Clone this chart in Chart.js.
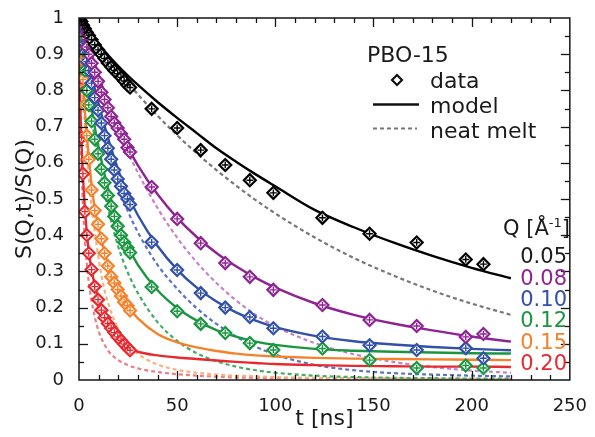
<!DOCTYPE html>
<html>
<head>
<meta charset="utf-8">
<script src="https://cdn.jsdelivr.net/npm/chart.js@4/dist/chart.umd.min.js"></script>
<style>
  html, body { margin: 0; padding: 0; background: #fff; }
  #c { display: block; }
</style>
</head>
<body>
<canvas id="c" width="595" height="437"></canvas>
<script>
// ---- time grids [ns] ----
const tShort = [0.5, 1.2, 2, 3, 4, 5, 6.4, 8, 9.7, 11.4, 13, 14.7, 16.4, 18, 19.7, 21.4, 23, 24.7, 26];
const tLong  = [37, 50, 62, 74.5, 87, 99, 124, 148, 172, 197, 206];
const tGrid  = [0, 0.5, 1, 1.5, 2, 3, 4, 5, 6, 8, 10, 12, 15, 20, 25, 30, 40, 50, 60, 70, 80, 90, 100, 120, 140, 160, 180, 200, 220];

// ---- Q labels ----
const qLabels = ['0.05', '0.08', '0.10', '0.12', '0.15', '0.20'];

// ---- measured S(Q,t)/S(Q) ----
const q005Short = [0.995, 0.99, 0.98, 0.97, 0.96, 0.952, 0.94, 0.926, 0.912, 0.9, 0.888, 0.876, 0.865, 0.855, 0.846, 0.836, 0.826, 0.815, 0.808];
const q005Long  = [0.749, 0.696, 0.635, 0.594, 0.552, 0.517, 0.448, 0.404, 0.38, 0.333, 0.32];
const q008Short = [0.99, 0.975, 0.96, 0.94, 0.92, 0.9, 0.875, 0.85, 0.825, 0.795, 0.775, 0.752, 0.728, 0.71, 0.696, 0.68, 0.665, 0.642, 0.63];
const q008Long  = [0.533, 0.445, 0.378, 0.323, 0.285, 0.249, 0.207, 0.166, 0.149, 0.119, 0.127];
const q010Short = [0.98, 0.96, 0.935, 0.905, 0.88, 0.855, 0.82, 0.78, 0.745, 0.71, 0.675, 0.64, 0.61, 0.58, 0.555, 0.535, 0.515, 0.5, 0.485];
const q010Long  = [0.381, 0.304, 0.24, 0.2, 0.174, 0.143, 0.12, 0.096, 0.083, 0.088, 0.06];
const q012Short = [0.97, 0.94, 0.9, 0.855, 0.8, 0.76, 0.715, 0.665, 0.625, 0.582, 0.545, 0.51, 0.48, 0.452, 0.425, 0.4, 0.38, 0.365, 0.352];
const q012Long  = [0.257, 0.19, 0.155, 0.13, 0.102, 0.083, 0.087, 0.055, 0.033, 0.04, 0.033];
const q015Short = [0.95, 0.89, 0.83, 0.76, 0.675, 0.61, 0.525, 0.468, 0.43, 0.39, 0.35, 0.315, 0.285, 0.268, 0.25, 0.232, 0.215, 0.205, 0.192];
const q020Short = [0.82, 0.67, 0.57, 0.465, 0.4, 0.35, 0.305, 0.258, 0.222, 0.193, 0.172, 0.156, 0.143, 0.131, 0.119, 0.109, 0.099, 0.089, 0.082];

// ---- model curves on tGrid ----
const q005Model = [1, 0.996, 0.992, 0.988, 0.984, 0.977, 0.969, 0.962, 0.955, 0.941, 0.928, 0.915, 0.896, 0.867, 0.84, 0.815, 0.768, 0.724, 0.682, 0.64, 0.603, 0.568, 0.535, 0.47, 0.422, 0.38, 0.343, 0.31, 0.281];
const q008Model = [1, 0.992, 0.984, 0.976, 0.968, 0.953, 0.938, 0.922, 0.906, 0.874, 0.842, 0.81, 0.765, 0.7, 0.642, 0.593, 0.513, 0.448, 0.395, 0.351, 0.314, 0.282, 0.255, 0.212, 0.18, 0.156, 0.137, 0.12, 0.106];
const q010Model = [1, 0.987, 0.974, 0.961, 0.948, 0.923, 0.898, 0.874, 0.851, 0.806, 0.763, 0.722, 0.665, 0.58, 0.51, 0.455, 0.37, 0.305, 0.255, 0.217, 0.187, 0.164, 0.146, 0.122, 0.107, 0.098, 0.091, 0.086, 0.082];
const q012Model = [1, 0.977, 0.955, 0.933, 0.912, 0.872, 0.834, 0.798, 0.764, 0.7, 0.643, 0.592, 0.525, 0.435, 0.368, 0.318, 0.248, 0.199, 0.164, 0.138, 0.12, 0.106, 0.097, 0.086, 0.081, 0.078, 0.076, 0.074, 0.073];
const q015Model = [1, 0.955, 0.912, 0.868, 0.825, 0.745, 0.675, 0.615, 0.56, 0.475, 0.422, 0.375, 0.318, 0.25, 0.203, 0.17, 0.127, 0.104, 0.09, 0.08, 0.073, 0.068, 0.065, 0.061, 0.059, 0.058, 0.057, 0.056, 0.055];
const q020Model = [1, 0.8, 0.7, 0.625, 0.565, 0.475, 0.405, 0.355, 0.318, 0.262, 0.222, 0.193, 0.16, 0.12, 0.09, 0.078, 0.068, 0.062, 0.058, 0.054, 0.05, 0.047, 0.044, 0.041, 0.039, 0.038, 0.037, 0.037, 0.036];

// ---- neat melt curves on tGrid ----
const q005Melt = [1, 0.996, 0.992, 0.988, 0.984, 0.976, 0.968, 0.961, 0.953, 0.938, 0.923, 0.909, 0.887, 0.853, 0.82, 0.789, 0.73, 0.676, 0.626, 0.58, 0.537, 0.497, 0.46, 0.394, 0.337, 0.289, 0.247, 0.211, 0.18];
const q008Melt = [1, 0.991, 0.982, 0.973, 0.964, 0.947, 0.93, 0.913, 0.896, 0.863, 0.83, 0.8, 0.755, 0.688, 0.628, 0.573, 0.475, 0.393, 0.325, 0.268, 0.22, 0.18, 0.148, 0.102, 0.071, 0.05, 0.036, 0.026, 0.02];
const q010Melt = [1, 0.985, 0.97, 0.955, 0.94, 0.911, 0.882, 0.854, 0.827, 0.775, 0.727, 0.683, 0.622, 0.535, 0.465, 0.408, 0.318, 0.252, 0.198, 0.155, 0.12, 0.092, 0.07, 0.042, 0.027, 0.019, 0.015, 0.012, 0.01];
const q012Melt = [1, 0.974, 0.949, 0.925, 0.902, 0.858, 0.816, 0.776, 0.738, 0.668, 0.604, 0.546, 0.47, 0.368, 0.295, 0.24, 0.16, 0.108, 0.074, 0.052, 0.037, 0.027, 0.02, 0.012, 0.008, 0.006, 0.005, 0.004, 0.004];
const q015Melt = [1, 0.94, 0.885, 0.834, 0.787, 0.7, 0.625, 0.557, 0.497, 0.41, 0.335, 0.272, 0.21, 0.14, 0.098, 0.072, 0.043, 0.028, 0.02, 0.015, 0.012, 0.01, 0.008, 0.006, 0.005, 0.004, 0.003, 0.003, 0.002];
const q020Melt = [1, 0.78, 0.64, 0.55, 0.48, 0.385, 0.32, 0.27, 0.232, 0.175, 0.135, 0.108, 0.08, 0.055, 0.041, 0.032, 0.022, 0.016, 0.012, 0.009, 0.007, 0.006, 0.005, 0.004, 0.003, 0.003, 0.002, 0.002, 0.002];

// ---- colours ----
const lineColors = ['#000000', '#8e2393', '#3150a8', '#1a9640', '#f5822a', '#e52b30'];
const meltColors = ['#777777', '#c584c8', '#5d74c6', '#45ad63', '#f7b27c', '#ec7d89'];

const FONT = '"DejaVu Sans", Verdana, sans-serif';

const pts = (ts, ys) => ys.map((y, i) => ({ x: ts[i], y: y }));

const series = [
  { data: [...pts(tShort, q005Short), ...pts(tLong, q005Long)], model: q005Model, melt: q005Melt },
  { data: [...pts(tShort, q008Short), ...pts(tLong, q008Long)], model: q008Model, melt: q008Melt },
  { data: [...pts(tShort, q010Short), ...pts(tLong, q010Long)], model: q010Model, melt: q010Melt },
  { data: [...pts(tShort, q012Short), ...pts(tLong, q012Long)], model: q012Model, melt: q012Melt },
  { data: pts(tShort, q015Short), model: q015Model, melt: q015Melt },
  { data: pts(tShort, q020Short), model: q020Model, melt: q020Melt }
];

const datasets = [];
// error-bar style crosses inside the markers (drawn on top)
series.forEach((s, i) => datasets.push({
  data: s.data, showLine: false, order: 0,
  pointStyle: 'cross', pointRadius: 3.4, borderWidth: 1.4,
  borderColor: lineColors[i], backgroundColor: lineColors[i]
}));
// diamond markers
series.forEach((s, i) => datasets.push({
  data: s.data, showLine: false, order: 1,
  pointStyle: 'rectRot', pointRadius: 6, borderWidth: 2.2,
  borderColor: lineColors[i], backgroundColor: '#ffffff'
}));
// model curves
series.forEach((s, i) => datasets.push({
  data: pts(tGrid, s.model), showLine: true, order: 2,
  pointRadius: 0, borderWidth: 2.4, borderColor: lineColors[i],
  cubicInterpolationMode: 'monotone', fill: false
}));
// neat melt curves
series.forEach((s, i) => datasets.push({
  data: pts(tGrid, s.melt), showLine: true, order: 3,
  pointRadius: 0, borderWidth: 2.2, borderColor: meltColors[i], borderDash: [4, 3],
  cubicInterpolationMode: 'monotone', fill: false
}));

// frame with inward ticks on all four sides
const framePlugin = {
  id: 'frame',
  afterDraw(chart) {
    const { ctx, chartArea: a, scales: { x, y } } = chart;
    ctx.save();
    ctx.strokeStyle = '#151515';
    ctx.lineWidth = 1.3;
    const seg = (x1, y1, x2, y2) => { ctx.beginPath(); ctx.moveTo(x1, y1); ctx.lineTo(x2, y2); ctx.stroke(); };
    for (let v = 10; v < 250; v += 10) {
      const px = Math.round(x.getPixelForValue(v)) + 0.5;
      const len = v % 50 === 0 ? 9 : 5;
      seg(px, a.bottom, px, a.bottom - len);
      seg(px, a.top, px, a.top + len);
    }
    for (let k = 1; k < 20; k++) {
      const py = Math.round(y.getPixelForValue(k * 0.05)) + 0.5;
      const len = k % 2 === 0 ? 9 : 5;
      seg(a.left, py, a.left + len, py);
      seg(a.right, py, a.right - len, py);
    }
    ctx.lineWidth = 1.5;
    ctx.strokeRect(a.left, a.top, a.right - a.left, a.bottom - a.top);
    ctx.restore();
  }
};

// key and Q annotations
const notesPlugin = {
  id: 'notes',
  afterDraw(chart) {
    const ctx = chart.ctx;
    ctx.save();
    ctx.textBaseline = 'alphabetic';
    ctx.fillStyle = '#1a1a1a';
    ctx.font = '22px ' + FONT;
    ctx.textAlign = 'left';
    ctx.fillText('PBO-15', 367, 62);
    // data marker
    ctx.strokeStyle = '#111';
    ctx.lineWidth = 2.2;
    ctx.beginPath();
    ctx.moveTo(397, 75); ctx.lineTo(402, 80); ctx.lineTo(397, 85); ctx.lineTo(392, 80); ctx.closePath();
    ctx.stroke();
    ctx.fillText('data', 430, 88);
    // model line
    ctx.lineWidth = 2.4;
    ctx.beginPath(); ctx.moveTo(373, 104.5); ctx.lineTo(419, 104.5); ctx.stroke();
    ctx.fillText('model', 430, 113);
    // neat melt line
    ctx.strokeStyle = meltColors[0];
    ctx.lineWidth = 2;
    ctx.setLineDash([4, 3]);
    ctx.beginPath(); ctx.moveTo(373, 128.5); ctx.lineTo(417, 128.5); ctx.stroke();
    ctx.setLineDash([]);
    ctx.fillText('neat melt', 430, 138);

    // Q header: Q [Å^-1]
    const right = 570;
    ctx.font = '21px ' + FONT;
    const wClose = ctx.measureText(']').width;
    ctx.font = '13px ' + FONT;
    const wSup = ctx.measureText('-1').width;
    ctx.font = '21px ' + FONT;
    const wMain = ctx.measureText('Q [Å').width;
    let xs = right - wClose - wSup - wMain;
    ctx.fillText('Q [Å', xs, 235);
    ctx.font = '13px ' + FONT;
    ctx.fillText('-1', xs + wMain, 227);
    ctx.font = '21px ' + FONT;
    ctx.fillText(']', xs + wMain + wSup, 235);

    ctx.textAlign = 'right';
    const base = [263, 284.5, 306, 327, 348.5, 370];
    qLabels.forEach((q, i) => {
      ctx.fillStyle = i === 0 ? '#1a1a1a' : lineColors[i];
      ctx.fillText(q, 567, base[i]);
    });
    ctx.restore();
  }
};

new Chart(document.getElementById('c'), {
  type: 'scatter',
  data: { datasets },
  options: {
    responsive: false,
    animation: false,
    layout: { padding: { left: 0, right: 18, top: 18, bottom: 0 } },
    plugins: { legend: { display: false }, tooltip: { enabled: false } },
    scales: {
      x: {
        type: 'linear', min: 0, max: 250,
        grid: { display: false }, border: { display: false },
        ticks: { stepSize: 50, padding: 8, color: '#1a1a1a', font: { family: FONT, size: 18 } },
        title: { display: true, text: 't [ns]', color: '#1a1a1a', font: { family: FONT, size: 22 }, padding: { top: 0, bottom: 5 } },
        afterFit(s) { s.height = 57; }
      },
      y: {
        type: 'linear', min: 0, max: 1,
        grid: { display: false }, border: { display: false },
        ticks: {
          stepSize: 0.1, padding: 7, color: '#1a1a1a', font: { family: FONT, size: 18 },
          callback: v => String(Math.round(v * 10) / 10)
        },
        title: { display: true, text: 'S(Q,t)/S(Q)', color: '#1a1a1a', font: { family: FONT, size: 22 }, padding: { top: 12, bottom: 0 } },
        afterFit(s) { s.width = 79; }
      }
    }
  },
  plugins: [framePlugin, notesPlugin]
});
</script>
</body>
</html>
